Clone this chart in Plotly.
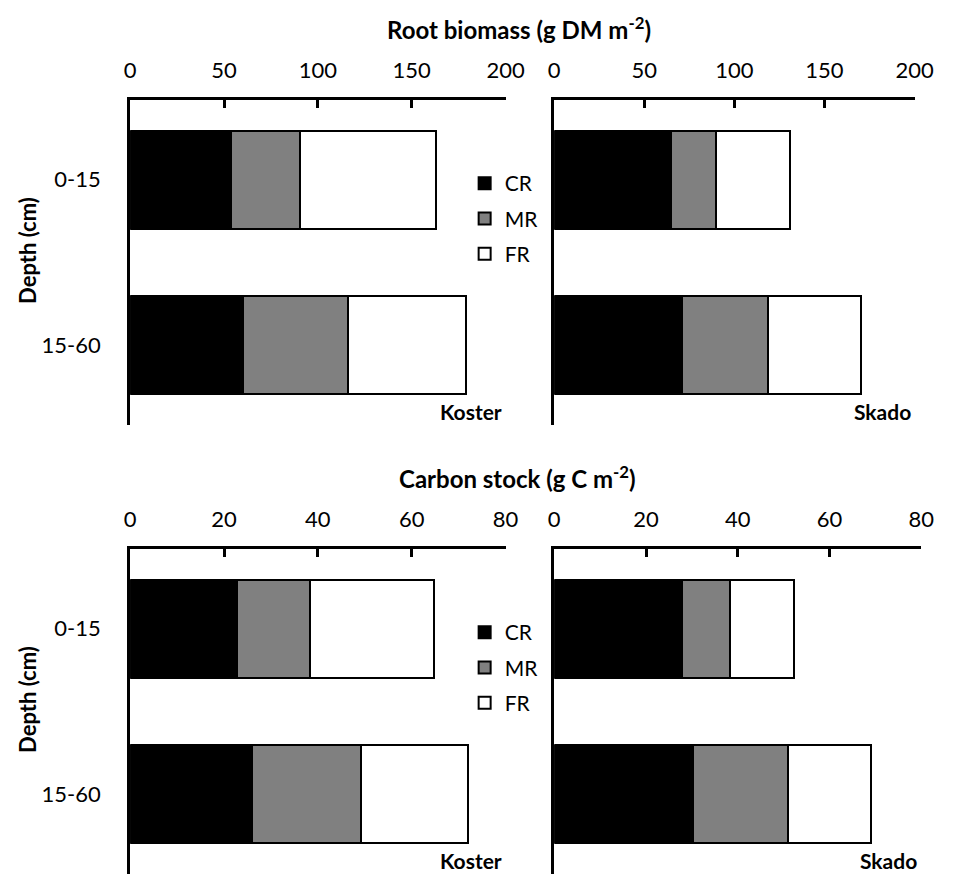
import plotly.graph_objects as go

depths = ["0-15", "15-60"]
components = ["CR", "MR", "FR"]
comp_colors = ["#000000", "#808080", "#ffffff"]

# Root biomass (g DM m-2)
koster_biomass_CR = [53.5, 60.0]
koster_biomass_MR = [36.9, 56.0]
koster_biomass_FR = [72.6, 63.0]
skado_biomass_CR = [64.7, 70.8]
skado_biomass_MR = [25.2, 48.1]
skado_biomass_FR = [40.9, 51.4]

# Carbon stock (g C m-2)
koster_carbon_CR = [22.8, 25.9]
koster_carbon_MR = [15.6, 23.4]
koster_carbon_FR = [26.3, 22.6]
skado_carbon_CR = [27.8, 30.2]
skado_carbon_MR = [10.5, 20.8]
skado_carbon_FR = [14.0, 18.0]

biomass_ticks = [0, 50, 100, 150, 200]
carbon_ticks = [0, 20, 40, 60, 80]

W, H = 953, 875
FONT = "Lato"


def px(x):
    return x / W


def py(y):
    return 1 - y / H


panels = [
    ("x", "y", [koster_biomass_CR, koster_biomass_MR, koster_biomass_FR], "legend",
     (127.5, 513), (100, 425), biomass_ticks, "Koster", True),
    ("x2", "y2", [skado_biomass_CR, skado_biomass_MR, skado_biomass_FR], None,
     (563, 933), (100, 425), biomass_ticks, "Skado", False),
    ("x3", "y3", [koster_carbon_CR, koster_carbon_MR, koster_carbon_FR], "legend2",
     (127.5, 513), (549, 874), carbon_ticks, "Koster", True),
    ("x4", "y4", [skado_carbon_CR, skado_carbon_MR, skado_carbon_FR], None,
     (563, 940), (549, 874), carbon_ticks, "Skado", False),
]

fig = go.Figure()
layout = {}
annotations = []

for i, (xa, ya, series, leg, xr, yr, ticks, site, left) in enumerate(panels):
    for comp, col, vals in zip(components, comp_colors, series):
        fig.add_trace(go.Bar(
            x=vals, y=depths, orientation="h", name=comp,
            marker=dict(color=col, line=dict(color="black", width=2)),
            xaxis=xa, yaxis=ya,
            showlegend=leg is not None,
            legend=leg if leg else "legend",
            legendgroup=f"{comp}{i}",
        ))
    xkey = "xaxis" + xa[1:]
    ykey = "yaxis" + ya[1:]
    layout[xkey] = dict(
        domain=[px(xr[0]), px(xr[1])], anchor=ya, side="top",
        range=[ticks[0], ticks[-1]], tickvals=ticks,
        showline=True, linewidth=3, linecolor="black",
        ticks="inside", ticklen=8, tickwidth=3, tickcolor="black",
        showgrid=False, zeroline=False,
        tickfont=dict(family=FONT, size=22, color="black"),
        ticklabelstandoff=10,
    )
    layout[ykey] = dict(
        domain=[py(yr[1]), py(yr[0])], anchor=xa,
        type="category", categoryorder="array", categoryarray=depths,
        range=[1.48, -0.48],
        showline=True, linewidth=3, linecolor="black",
        ticks="", showgrid=False, zeroline=False,
        showticklabels=left,
        tickfont=dict(family=FONT, size=22, color="black"),
        ticklabelstandoff=22,
    )
    annotations.append(dict(
        text=f"<b>{site}</b>", xref="paper", yref="paper",
        x=px(xr[1] - 2), y=py(yr[1] + 1), xanchor="right", yanchor="bottom",
        showarrow=False, font=dict(family=FONT, size=21, color="black"),
    ))
    if left:
        annotations.append(dict(
            text="<b>Depth (cm)</b>", xref="paper", yref="paper",
            x=px(22), y=py((yr[0] + yr[1]) / 2 - 12), xanchor="center", yanchor="middle",
            textangle=-90, showarrow=False,
            font=dict(family=FONT, size=22, color="black"),
        ))

annotations.append(dict(
    text="<b>Root biomass (g DM m<sup>-2</sup>)</b>", xref="paper", yref="paper",
    x=px(527), y=py(28), xanchor="center", yanchor="middle", showarrow=False,
    font=dict(family=FONT, size=24, color="black"),
))
annotations.append(dict(
    text="<b>Carbon stock (g C m<sup>-2</sup>)</b>", xref="paper", yref="paper",
    x=px(525), y=py(477), xanchor="center", yanchor="middle", showarrow=False,
    font=dict(family=FONT, size=24, color="black"),
))

legend_common = dict(
    xanchor="left", yanchor="top", bgcolor="rgba(0,0,0,0)",
    font=dict(family=FONT, size=21, color="black"),
    traceorder="grouped", tracegroupgap=5, itemclick=False,
)
layout["legend"] = dict(x=px(471), y=py(163), **legend_common)
layout["legend2"] = dict(x=px(471), y=py(163 + 449), **legend_common)

fig.update_layout(
    **layout,
    annotations=annotations,
    barmode="stack", bargap=0.41,
    width=W, height=H,
    margin=dict(l=0, r=0, t=0, b=0),
    paper_bgcolor="white", plot_bgcolor="white",
    font=dict(family=FONT, color="black"),
)

fig.write_html("out.html")
